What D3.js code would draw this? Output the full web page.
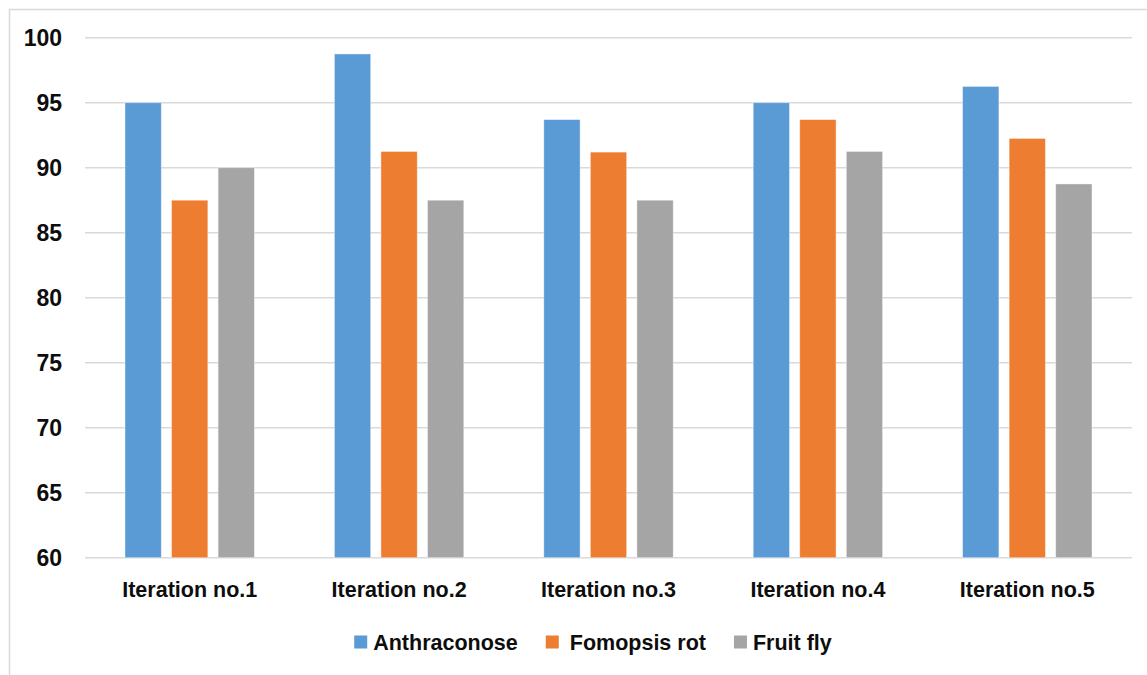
<!DOCTYPE html>
<html>
<head>
<meta charset="utf-8">
<script src="https://cdn.jsdelivr.net/npm/d3@7"></script>
<style>
  html, body { margin: 0; padding: 0; background: #fff; }
  svg { display: block; }
  text { font-family: "Liberation Sans", Arial, sans-serif; font-weight: bold; fill: #0d0d0d; }
</style>
</head>
<body>
<svg id="chart" width="1147" height="675"></svg>
<script>
// Categories, series and values
const categories = ["Iteration no.1", "Iteration no.2", "Iteration no.3", "Iteration no.4", "Iteration no.5"];
const seriesNames = ["Anthraconose", "Fomopsis rot", "Fruit fly"];
const anthraconose = [95, 98.75, 93.7, 95, 96.25];
const fomopsisRot = [87.5, 91.25, 91.2, 93.7, 92.25];
const fruitFly = [90, 87.5, 87.5, 91.25, 88.75];
const yTicks = [60, 65, 70, 75, 80, 85, 90, 95, 100];
const colors = ["#5B9BD5", "#ED7D31", "#A5A5A5"];

const seriesValues = [anthraconose, fomopsisRot, fruitFly];
const rows = categories.map((c, i) => ({
  category: c,
  values: seriesNames.map((s, j) => ({ series: s, value: seriesValues[j][i], color: colors[j] }))
}));

const svg = d3.select("#chart");
const plot = { left: 85, right: 1132, top: 37.7, bottom: 557.7 };

// Chart frame
svg.append("rect")
  .attr("x", 9.5).attr("y", 9.5)
  .attr("width", 1160).attr("height", 700)
  .attr("fill", "#fff")
  .attr("stroke", "#D9D9D9")
  .attr("stroke-width", 1.5);

const y = d3.scaleLinear().domain([60, 100]).range([plot.bottom, plot.top]);
const x0 = d3.scaleBand().domain(categories).range([plot.left, plot.right])
  .paddingInner(0.382).paddingOuter(0.191);
const x1 = d3.scaleBand().domain(seriesNames).range([0, x0.bandwidth()]).paddingInner(0.22);

// Horizontal gridlines
svg.append("g")
  .selectAll("line")
  .data(yTicks)
  .join("line")
  .attr("x1", plot.left).attr("x2", plot.right)
  .attr("y1", d => y(d)).attr("y2", d => y(d))
  .attr("stroke", "#D9D9D9")
  .attr("stroke-width", 1.6);

// Y axis labels
const yAxis = d3.axisLeft(y).tickValues(yTicks).tickSize(0).tickPadding(0);
const gy = svg.append("g").attr("transform", `translate(62,0)`).call(yAxis);
gy.select(".domain").remove();
gy.selectAll("text")
  .attr("font-family", "Liberation Sans, Arial, sans-serif")
  .attr("font-weight", "bold")
  .attr("font-size", 23)
  .attr("fill", "#0d0d0d")
  .attr("dy", "0.36em");

// Bars
const groups = svg.append("g")
  .selectAll("g")
  .data(rows)
  .join("g")
  .attr("transform", d => `translate(${x0(d.category)},0)`);

groups.selectAll("rect")
  .data(d => d.values)
  .join("rect")
  .attr("x", d => x1(d.series))
  .attr("y", d => y(d.value))
  .attr("width", x1.bandwidth())
  .attr("height", d => y(60) - y(d.value))
  .attr("fill", d => d.color)
  .attr("stroke", "#ffffff")
  .attr("stroke-opacity", 0.5)
  .attr("stroke-width", 0.8);

// X axis labels
const xAxis = d3.axisBottom(x0).tickSize(0).tickPadding(0);
const gx = svg.append("g").attr("transform", `translate(0,${plot.bottom + 39.5})`).call(xAxis);
gx.select(".domain").remove();
gx.selectAll("text")
  .attr("font-family", "Liberation Sans, Arial, sans-serif")
  .attr("font-weight", "bold")
  .attr("font-size", 21.5)
  .attr("fill", "#0d0d0d")
  .attr("dy", 0);

// Legend
const legend = svg.append("g").attr("transform", "translate(0,642)");
const items = legend.selectAll("g")
  .data(seriesNames.map((s, i) => ({ name: s, color: colors[i] })))
  .join("g");
items.append("rect")
  .attr("width", 13).attr("height", 13)
  .attr("y", -6.5)
  .attr("fill", d => d.color);
items.append("text")
  .attr("x", (d, i) => i === 1 ? 24 : 19)
  .attr("dy", "0.36em")
  .attr("font-size", 21.5)
  .text(d => d.name);

const widths = [];
items.each(function (d, i) {
  widths.push((i === 1 ? 24 : 19) + d3.select(this).select("text").node().getComputedTextLength());
});
const gap = 28;
const total = d3.sum(widths) + gap * (widths.length - 1);
let cursor = 593 - total / 2;
items.attr("transform", (d, i) => {
  const t = `translate(${cursor},0)`;
  cursor += widths[i] + gap;
  return t;
});
</script>
</body>
</html>
